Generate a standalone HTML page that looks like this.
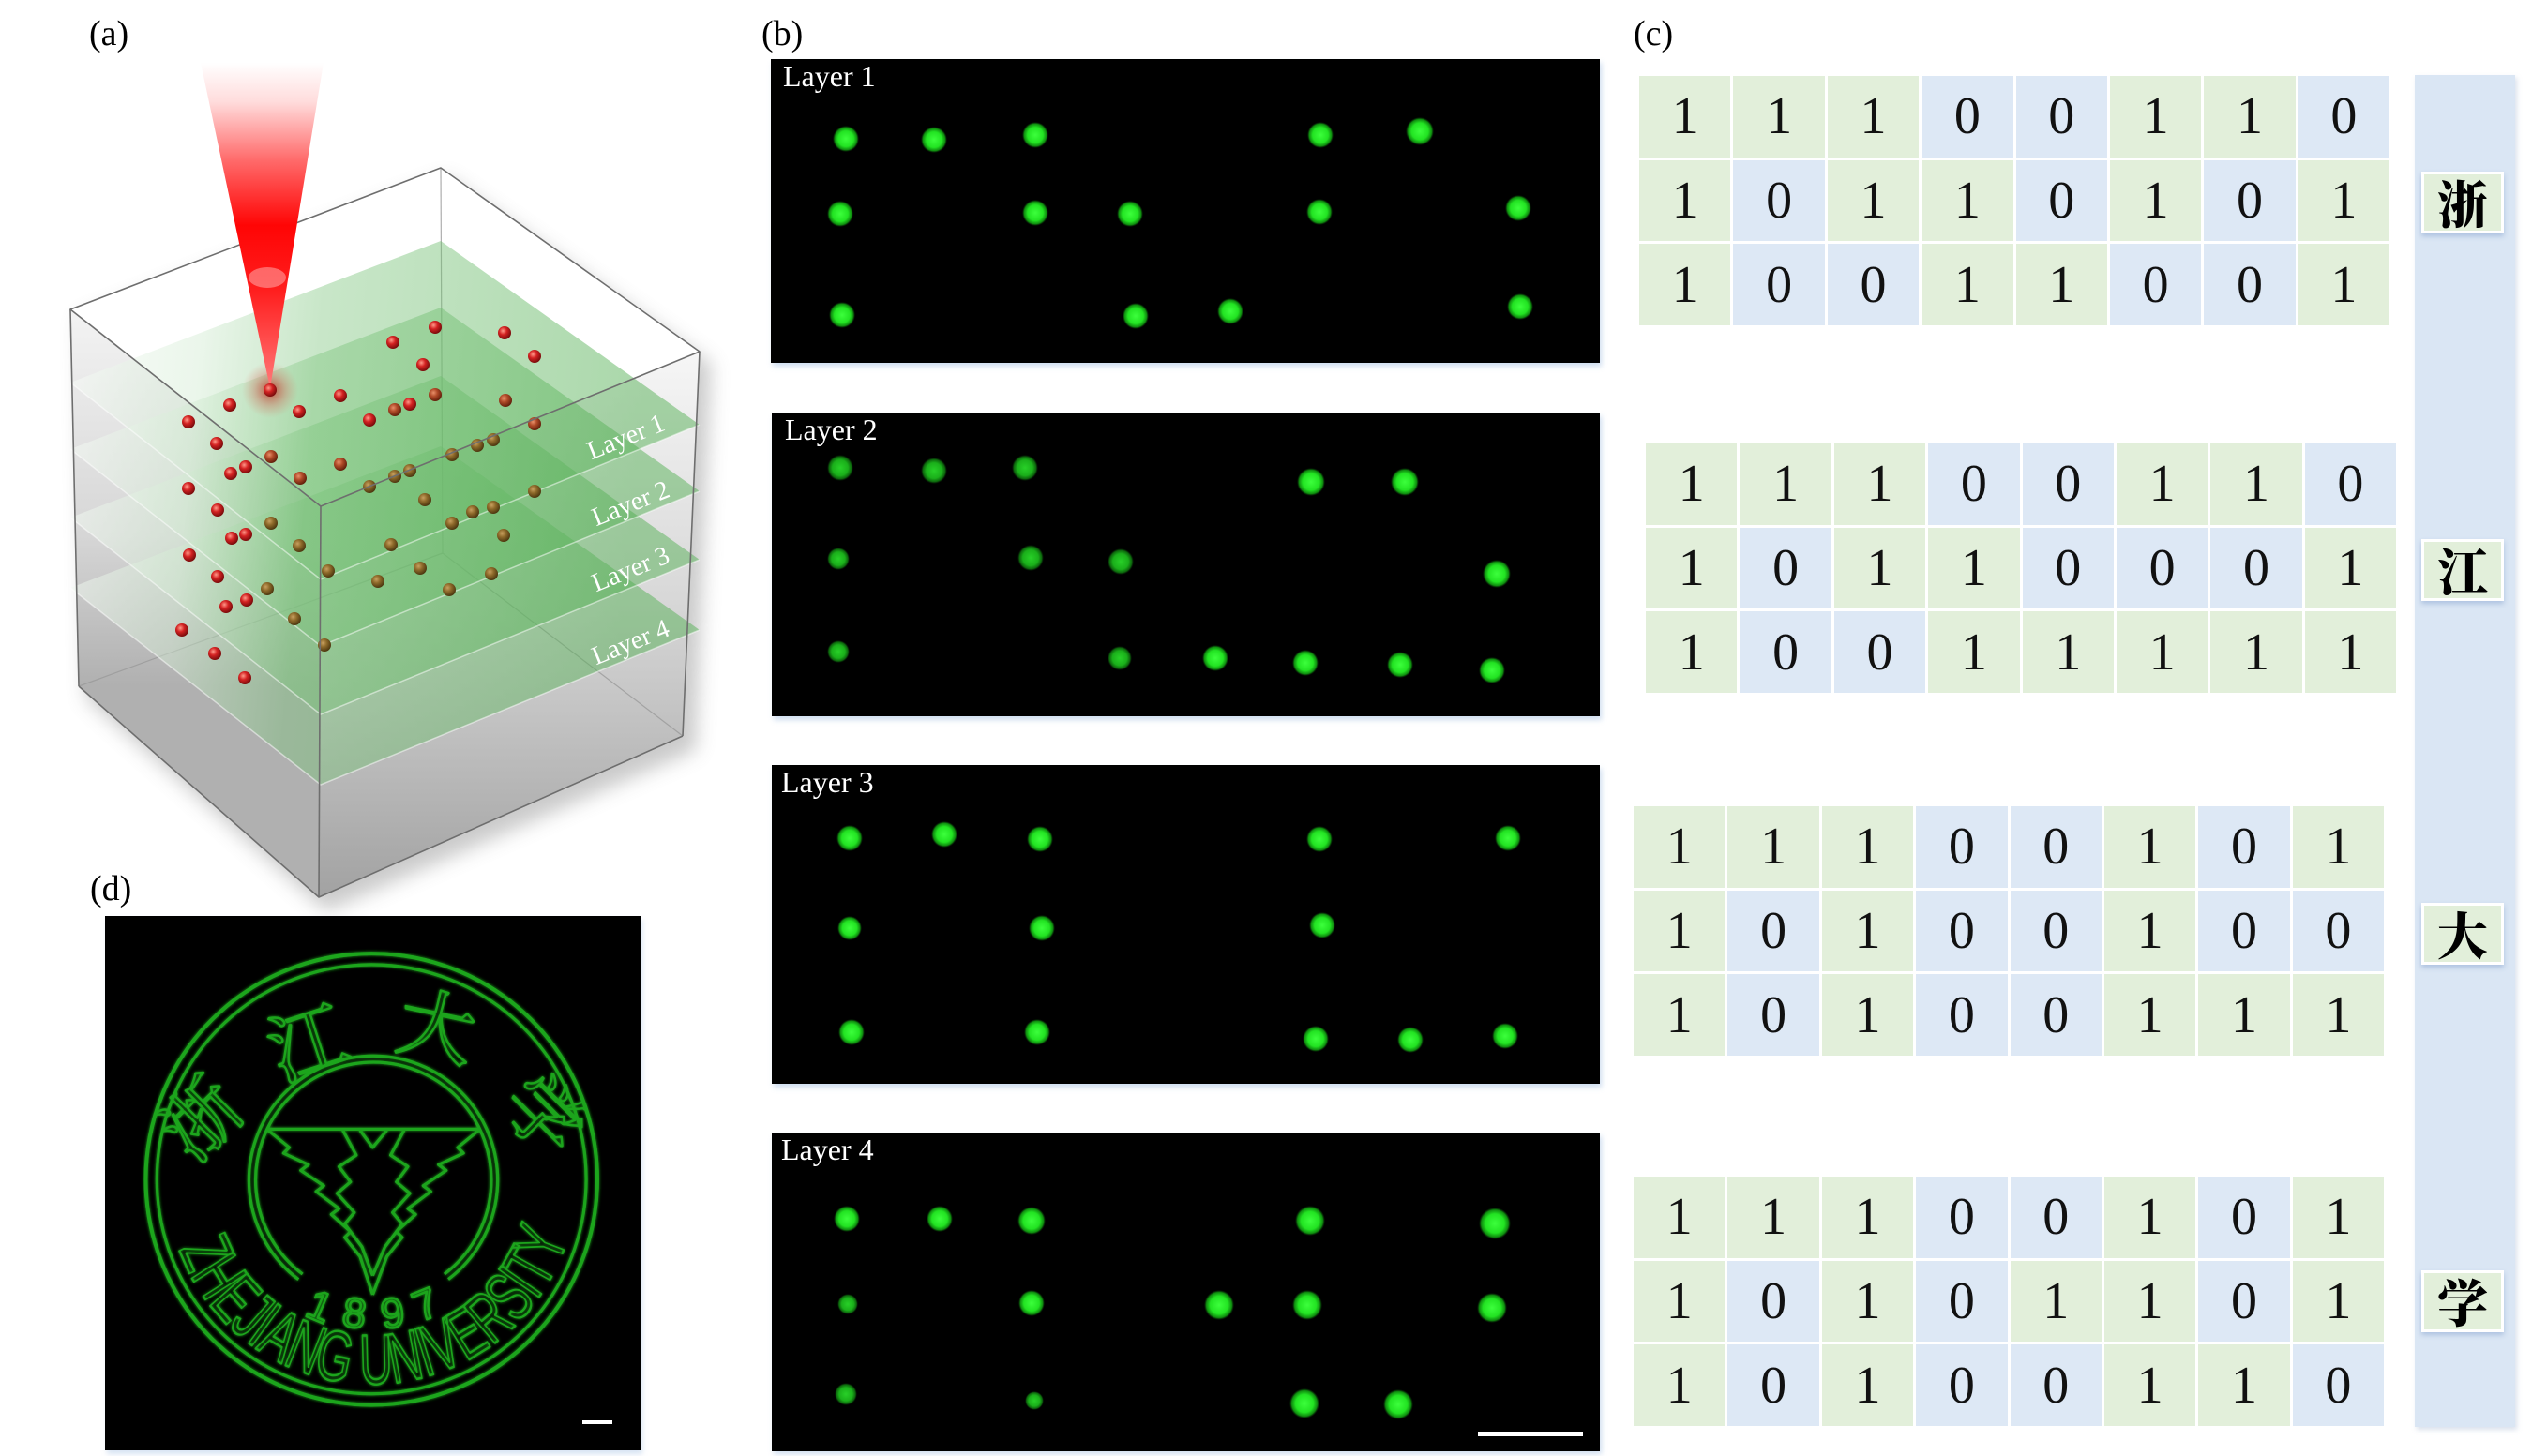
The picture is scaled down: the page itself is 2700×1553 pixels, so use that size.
<!DOCTYPE html>
<html><head><meta charset="utf-8">
<style>
html,body{margin:0;padding:0;background:#fff;}
body{width:2700px;height:1553px;position:relative;overflow:hidden;font-family:"Liberation Serif",serif;}
svg{position:absolute;left:0;top:0;}
.tb{position:absolute;width:800px;height:266px;display:grid;grid-template-columns:repeat(8,1fr);grid-template-rows:repeat(3,1fr);gap:3px;}
.tb span{display:flex;align-items:center;justify-content:center;font:56px/1 "Liberation Serif",serif;color:#111;}
.o{background:#e2efda}.z{background:#dde8f5}
.bar{position:absolute;left:2575px;top:80px;width:107px;height:1442px;background:#dae6f4;box-shadow:2px 3px 5px rgba(150,170,200,0.35);}
.cb{position:absolute;left:2582px;width:82px;height:60px;background:#e2efda;border:3px solid #fff;box-shadow:0 3px 5px rgba(120,150,200,0.45);display:flex;align-items:center;justify-content:center;font:900 54px/1 "Noto Serif CJK SC","Noto Sans CJK SC",serif;color:#000;}
.lab{position:absolute;font:38px/1 "Liberation Serif",serif;color:#000;}
</style></head>
<body>
<svg width="2700" height="1553" viewBox="0 0 2700 1553" xmlns="http://www.w3.org/2000/svg">
<defs>
  <linearGradient id="lf" gradientUnits="userSpaceOnUse" x1="0" y1="330" x2="0" y2="732">
    <stop offset="0" stop-color="#f3f3f3"/><stop offset="0.6" stop-color="#d6d6d6"/><stop offset="1" stop-color="#b0b0b0"/>
  </linearGradient>
  <linearGradient id="rf" gradientUnits="userSpaceOnUse" x1="0" y1="375" x2="0" y2="957">
    <stop offset="0" stop-color="#f6f6f6"/><stop offset="0.45" stop-color="#d8d8d8"/><stop offset="1" stop-color="#a2a2a2"/>
  </linearGradient>
  <linearGradient id="pl" gradientUnits="userSpaceOnUse" x1="90" y1="0" x2="720" y2="60">
    <stop offset="0" stop-color="#ffffff" stop-opacity="0.55"/>
    <stop offset="0.25" stop-color="#d2ebd2" stop-opacity="0.45"/>
    <stop offset="0.45" stop-color="#7cc47c" stop-opacity="0.42"/>
    <stop offset="1" stop-color="#55b055" stop-opacity="0.5"/>
  </linearGradient>
  <linearGradient id="cone" gradientUnits="userSpaceOnUse" x1="0" y1="67" x2="0" y2="414">
    <stop offset="0" stop-color="#ffffff"/><stop offset="0.12" stop-color="#ffdcdc"/>
    <stop offset="0.3" stop-color="#ff6a6a"/><stop offset="0.5" stop-color="#ff0505"/>
    <stop offset="0.7" stop-color="#ff1e1e"/><stop offset="0.86" stop-color="#ff4f4f"/>
    <stop offset="1" stop-color="#ff7a7a"/>
  </linearGradient>
  <radialGradient id="tip">
    <stop offset="0" stop-color="#b83020" stop-opacity="0.85"/><stop offset="0.55" stop-color="#d06050" stop-opacity="0.35"/><stop offset="1" stop-color="#e08070" stop-opacity="0"/>
  </radialGradient>
  <radialGradient id="sr" cx="0.38" cy="0.35" r="0.65">
    <stop offset="0" stop-color="#ff9a8a"/><stop offset="0.45" stop-color="#d42222"/><stop offset="1" stop-color="#7a0c0c"/>
  </radialGradient>
  <radialGradient id="sb" cx="0.38" cy="0.35" r="0.65">
    <stop offset="0" stop-color="#e8906a"/><stop offset="0.45" stop-color="#b04a28"/><stop offset="1" stop-color="#64200c"/>
  </radialGradient>
  <radialGradient id="so" cx="0.38" cy="0.35" r="0.65">
    <stop offset="0" stop-color="#c8a060"/><stop offset="0.45" stop-color="#8e6a2a"/><stop offset="1" stop-color="#4e3810"/>
  </radialGradient>
  <radialGradient id="gd">
    <stop offset="0" stop-color="#3cff3c"/><stop offset="0.6" stop-color="#22e322"/><stop offset="0.85" stop-color="#13b013" stop-opacity="0.8"/><stop offset="1" stop-color="#0a600a" stop-opacity="0"/>
  </radialGradient>
  <radialGradient id="gm">
    <stop offset="0" stop-color="#28d028"/><stop offset="0.6" stop-color="#1aaf1a"/><stop offset="0.85" stop-color="#108010" stop-opacity="0.8"/><stop offset="1" stop-color="#084008" stop-opacity="0"/>
  </radialGradient>
  <filter id="blur10" x="-20%" y="-20%" width="140%" height="140%"><feGaussianBlur stdDeviation="10"/></filter>
  <filter id="blur3" x="-5%" y="-5%" width="110%" height="110%"><feGaussianBlur stdDeviation="3"/></filter>
  <filter id="glow" x="-10%" y="-10%" width="120%" height="120%">
    <feGaussianBlur in="SourceGraphic" stdDeviation="4" result="b"/>
    <feMerge><feMergeNode in="b"/><feMergeNode in="SourceGraphic"/></feMerge>
  </filter>
</defs>

<!-- ===== (a) 3D box ===== -->
<polygon points="85,340 476,190 758,388 742,800 348,972 92,745" fill="#8a8a8a" opacity="0.45" filter="url(#blur10)"/>
<polygon points="75,330 470,179 746,375 342,540" fill="#ffffff"/>
<polygon points="75,330 342,540 340,957 84,732" fill="url(#lf)"/>
<polygon points="342,540 746,375 728,785 340,957" fill="url(#rf)"/>
<g stroke="#9a9a9a" stroke-width="1.2" fill="none" opacity="0.8">
  <line x1="470" y1="179" x2="472" y2="590"/>
  <line x1="472" y1="590" x2="84" y2="732"/>
  <line x1="472" y1="590" x2="728" y2="785"/>
</g>
<polygon points="75,627 470,476 746,672 342,837" fill="url(#pl)"/>
<polygon points="75,552 470,401 746,597 342,762" fill="url(#pl)"/>
<polygon points="75,479 470,328 746,524 342,689" fill="url(#pl)"/>
<polygon points="75,408 470,257 746,453 342,618" fill="url(#pl)"/>
<g stroke="#ffffff" stroke-opacity="0.5" stroke-width="1.5" fill="none">
  <polyline points="75,408 342,618 746,453"/>
  <polyline points="75,479 342,689 746,524"/>
  <polyline points="75,552 342,762 746,597"/>
  <polyline points="75,627 342,837 746,672"/>
</g>
<g>
<circle cx="464" cy="349" r="7" fill="url(#sr)"/><circle cx="538" cy="355" r="7" fill="url(#sr)"/>
<circle cx="419" cy="365" r="7" fill="url(#sr)"/><circle cx="570" cy="380" r="7" fill="url(#sr)"/>
<circle cx="451" cy="389" r="7" fill="url(#sr)"/><circle cx="245" cy="432" r="7" fill="url(#sr)"/>
<circle cx="363" cy="422" r="7" fill="url(#sr)"/><circle cx="319" cy="439" r="7" fill="url(#sr)"/>
<circle cx="437" cy="431" r="7" fill="url(#sr)"/><circle cx="421" cy="437" r="7" fill="url(#sb)"/>
<circle cx="394" cy="448" r="7" fill="url(#sr)"/><circle cx="201" cy="450" r="7" fill="url(#sr)"/>
<circle cx="231" cy="473" r="7" fill="url(#sr)"/><circle cx="262" cy="498" r="7" fill="url(#sr)"/>
<circle cx="246" cy="505" r="7" fill="url(#sr)"/><circle cx="201" cy="521" r="7" fill="url(#sr)"/>
<circle cx="232" cy="544" r="7" fill="url(#sr)"/><circle cx="262" cy="570" r="7" fill="url(#sr)"/>
<circle cx="247" cy="574" r="7" fill="url(#sr)"/><circle cx="202" cy="592" r="7" fill="url(#sr)"/>
<circle cx="232" cy="615" r="7" fill="url(#sr)"/><circle cx="263" cy="640" r="7" fill="url(#sr)"/>
<circle cx="241" cy="647" r="7" fill="url(#sr)"/><circle cx="194" cy="672" r="7" fill="url(#sr)"/>
<circle cx="229" cy="697" r="7" fill="url(#sr)"/><circle cx="261" cy="723" r="7" fill="url(#sr)"/>
<circle cx="464" cy="421" r="7" fill="url(#sb)"/><circle cx="539" cy="427" r="7" fill="url(#sb)"/>
<circle cx="570" cy="452" r="7" fill="url(#sb)"/><circle cx="289" cy="487" r="7" fill="url(#sb)"/>
<circle cx="363" cy="495" r="7" fill="url(#sb)"/><circle cx="320" cy="510" r="7" fill="url(#sb)"/>
<circle cx="289" cy="558" r="7" fill="url(#so)"/><circle cx="319" cy="582" r="7" fill="url(#so)"/>
<circle cx="285" cy="628" r="7" fill="url(#so)"/>
<circle cx="526" cy="469" r="7" fill="url(#so)"/><circle cx="509" cy="475" r="7" fill="url(#so)"/>
<circle cx="482" cy="485" r="7" fill="url(#so)"/><circle cx="437" cy="502" r="7" fill="url(#so)"/>
<circle cx="421" cy="508" r="7" fill="url(#so)"/><circle cx="394" cy="519" r="7" fill="url(#so)"/>
<circle cx="570" cy="524" r="7" fill="url(#so)"/><circle cx="453" cy="533" r="7" fill="url(#so)"/>
<circle cx="526" cy="541" r="7" fill="url(#so)"/><circle cx="504" cy="546" r="7" fill="url(#so)"/>
<circle cx="482" cy="558" r="7" fill="url(#so)"/><circle cx="537" cy="571" r="7" fill="url(#so)"/>
<circle cx="417" cy="581" r="7" fill="url(#so)"/><circle cx="350" cy="609" r="7" fill="url(#so)"/>
<circle cx="448" cy="606" r="7" fill="url(#so)"/><circle cx="524" cy="612" r="7" fill="url(#so)"/>
<circle cx="403" cy="620" r="7" fill="url(#so)"/><circle cx="479" cy="629" r="7" fill="url(#so)"/>
<circle cx="314" cy="660" r="7" fill="url(#so)"/><circle cx="346" cy="688" r="7" fill="url(#so)"/>
</g>
<g stroke="#6e6e6e" stroke-width="1.6" fill="none" stroke-linejoin="round">
  <polygon points="75,330 470,179 746,375 342,540"/>
  <line x1="75" y1="330" x2="84" y2="732"/>
  <line x1="342" y1="540" x2="340" y2="957"/>
  <line x1="746" y1="375" x2="728" y2="785"/>
  <polyline points="84,732 340,957 728,785"/>
</g>
<circle cx="288" cy="416" r="30" fill="url(#tip)"/>
<polygon points="214,67 345,67 288,414" fill="url(#cone)"/>
<ellipse cx="285" cy="296" rx="20" ry="11" fill="#ffffff" opacity="0.35"/>
<circle cx="288" cy="416" r="7" fill="url(#sr)"/>
<g font-family="Liberation Serif, serif" font-size="28" fill="#ffffff" text-anchor="middle">
  <text transform="translate(667,465) rotate(-22)" y="10">Layer 1</text>
  <text transform="translate(672,536) rotate(-22)" y="10">Layer 2</text>
  <text transform="translate(672,606) rotate(-22)" y="10">Layer 3</text>
  <text transform="translate(672,684) rotate(-22)" y="10">Layer 4</text>
</g>

<!-- ===== (b) panels ===== -->
<g fill="#bcd0ea" opacity="0.7" filter="url(#blur3)">
  <rect x="824" y="67" width="884" height="324"/>
  <rect x="825" y="444" width="883" height="324"/>
  <rect x="825" y="820" width="883" height="340"/>
  <rect x="825" y="1212" width="883" height="339"/>
</g>
<rect x="822" y="63" width="884" height="324" fill="#000"/>
<rect x="823" y="440" width="883" height="324" fill="#000"/>
<rect x="823" y="816" width="883" height="340" fill="#000"/>
<rect x="823" y="1208" width="883" height="340" fill="#000"/>
<g font-family="Liberation Serif, serif" font-size="32" fill="#ffffff">
  <text x="835" y="92">Layer 1</text>
  <text x="837" y="469">Layer 2</text>
  <text x="833" y="845">Layer 3</text>
  <text x="833" y="1237">Layer 4</text>
</g>
<g fill="url(#gd)">
  <circle cx="902" cy="148" r="14"/><circle cx="996" cy="149" r="14"/><circle cx="1104" cy="144" r="14"/><circle cx="1408" cy="144" r="14"/><circle cx="1514" cy="140" r="15"/>
  <circle cx="896" cy="228" r="14"/><circle cx="1104" cy="227" r="14"/><circle cx="1205" cy="228" r="14"/><circle cx="1407" cy="226" r="14"/><circle cx="1619" cy="222" r="14"/>
  <circle cx="898" cy="336" r="14"/><circle cx="1211" cy="337" r="14"/><circle cx="1312" cy="332" r="14"/><circle cx="1621" cy="327" r="14"/>
  <circle cx="1398" cy="514" r="15"/><circle cx="1498" cy="514" r="15"/><circle cx="1596" cy="612" r="15"/>
  <circle cx="1296" cy="702" r="14"/><circle cx="1392" cy="707" r="14"/><circle cx="1493" cy="709" r="14"/><circle cx="1591" cy="715" r="14"/>
  <circle cx="906" cy="894" r="14"/><circle cx="1007" cy="890" r="14"/><circle cx="1109" cy="895" r="14"/><circle cx="1407" cy="895" r="14"/><circle cx="1608" cy="894" r="14"/>
  <circle cx="906" cy="990" r="13"/><circle cx="1111" cy="990" r="14"/><circle cx="1410" cy="987" r="14"/>
  <circle cx="908" cy="1101" r="14"/><circle cx="1106" cy="1101" r="14"/><circle cx="1403" cy="1108" r="14"/><circle cx="1504" cy="1109" r="14"/><circle cx="1605" cy="1105" r="14"/>
  <circle cx="903" cy="1300" r="14"/><circle cx="1002" cy="1300" r="14"/><circle cx="1100" cy="1302" r="15"/><circle cx="1397" cy="1302" r="16"/><circle cx="1594" cy="1305" r="17"/>
  <circle cx="1100" cy="1390" r="14"/><circle cx="1300" cy="1392" r="16"/><circle cx="1394" cy="1392" r="16"/><circle cx="1591" cy="1395" r="16"/>
  <circle cx="1391" cy="1497" r="16"/><circle cx="1491" cy="1498" r="16"/>
</g>
<g fill="url(#gm)">
  <circle cx="896" cy="499" r="14"/><circle cx="996" cy="502" r="14"/><circle cx="1093" cy="499" r="14"/>
  <circle cx="894" cy="596" r="12"/><circle cx="1099" cy="595" r="14"/><circle cx="1195" cy="599" r="14"/>
  <circle cx="894" cy="695" r="12"/><circle cx="1194" cy="702" r="13"/>
  <circle cx="904" cy="1391" r="11"/><circle cx="902" cy="1487" r="12"/><circle cx="1103" cy="1494" r="10"/>
</g>
<rect x="1576" y="1527" width="112" height="5" fill="#ffffff"/>

<!-- ===== (d) seal ===== -->
<rect x="114" y="981" width="571" height="570" fill="#bcd0ea" opacity="0.6" filter="url(#blur3)"/>
<rect x="112" y="977" width="571" height="570" fill="#000"/>
<g transform="translate(80,920) scale(0.408)" fill="none" stroke="#1fa51f" stroke-width="8" stroke-linejoin="round" filter="url(#glow)">
  <circle cx="775" cy="828" r="590" stroke-width="10"/>
  <circle cx="775" cy="828" r="561"/>
  <path d="M584,1090 A325,325 0 1 1 975.6,1089.6"/>
  <path d="M594.6,1076 A308,308 0 1 1 965.4,1076"/>
  <line x1="505" y1="697" x2="1055" y2="697"/>
  <polyline points="505,700 560,745 545,760 610,790 590,805 650,845 630,860 690,905 670,920 720,965 705,980 745,1030 778,1130"/>
  <polyline points="1055,700 1000,745 1015,760 950,790 970,805 910,845 930,860 870,905 890,920 840,965 855,980 815,1030 778,1130"/>
  <polyline points="700,700 735,765 690,795 720,835 685,865 730,915 705,945 750,1005 778,1080"/>
  <polyline points="860,700 825,765 870,795 840,835 875,865 830,915 855,945 810,1005 778,1080"/>
  <polyline points="745,700 778,745 815,700"/>
  <path id="arcTxt" d="M272.3,1011 A535,535 0 0 0 1291.8,966.5" stroke="none"/>
  <text font-family="Liberation Sans, sans-serif" font-size="185" stroke-width="6" textLength="1340" lengthAdjust="spacingAndGlyphs"><textPath href="#arcTxt">ZHEJIANG UNIVERSITY</textPath></text>
  <g font-family="Liberation Sans, sans-serif" font-size="110" stroke-width="6" text-anchor="middle">
    <text transform="translate(625,1195) rotate(23)">1</text>
    <text transform="translate(725,1215) rotate(8)">8</text>
    <text transform="translate(835,1215) rotate(-8)">9</text>
    <text transform="translate(930,1190) rotate(-22)">7</text>
  </g>
  <g font-family="Noto Serif CJK SC, serif" font-size="200" stroke-width="6" text-anchor="middle">
    <text transform="translate(380,720) rotate(-45)">浙</text>
    <text transform="translate(630,540) rotate(-18)">江</text>
    <text transform="translate(930,500) rotate(12)">大</text>
    <text transform="translate(1175,710) rotate(45)">学</text>
  </g>
</g>
<rect x="621" y="1515" width="32" height="4" fill="#ffffff"/>
</svg>

<div class="lab" style="left:95px;top:17px;">(a)</div>
<div class="lab" style="left:812px;top:17px;">(b)</div>
<div class="lab" style="left:1742px;top:17px;">(c)</div>
<div class="lab" style="left:96px;top:929px;">(d)</div>

<div class="bar"></div>
<div class="cb" style="top:183px;">浙</div>
<div class="cb" style="top:575px;">江</div>
<div class="cb" style="top:963px;">大</div>
<div class="cb" style="top:1355px;">学</div>

<div class="tb" style="left:1748px;top:81px;">
<span class="o">1</span><span class="o">1</span><span class="o">1</span><span class="z">0</span><span class="z">0</span><span class="o">1</span><span class="o">1</span><span class="z">0</span>
<span class="o">1</span><span class="z">0</span><span class="o">1</span><span class="o">1</span><span class="z">0</span><span class="o">1</span><span class="z">0</span><span class="o">1</span>
<span class="o">1</span><span class="z">0</span><span class="z">0</span><span class="o">1</span><span class="o">1</span><span class="z">0</span><span class="z">0</span><span class="o">1</span>
</div>
<div class="tb" style="left:1755px;top:473px;">
<span class="o">1</span><span class="o">1</span><span class="o">1</span><span class="z">0</span><span class="z">0</span><span class="o">1</span><span class="o">1</span><span class="z">0</span>
<span class="o">1</span><span class="z">0</span><span class="o">1</span><span class="o">1</span><span class="z">0</span><span class="z">0</span><span class="z">0</span><span class="o">1</span>
<span class="o">1</span><span class="z">0</span><span class="z">0</span><span class="o">1</span><span class="o">1</span><span class="o">1</span><span class="o">1</span><span class="o">1</span>
</div>
<div class="tb" style="left:1742px;top:860px;">
<span class="o">1</span><span class="o">1</span><span class="o">1</span><span class="z">0</span><span class="z">0</span><span class="o">1</span><span class="z">0</span><span class="o">1</span>
<span class="o">1</span><span class="z">0</span><span class="o">1</span><span class="z">0</span><span class="z">0</span><span class="o">1</span><span class="z">0</span><span class="z">0</span>
<span class="o">1</span><span class="z">0</span><span class="o">1</span><span class="z">0</span><span class="z">0</span><span class="o">1</span><span class="o">1</span><span class="o">1</span>
</div>
<div class="tb" style="left:1742px;top:1255px;">
<span class="o">1</span><span class="o">1</span><span class="o">1</span><span class="z">0</span><span class="z">0</span><span class="o">1</span><span class="z">0</span><span class="o">1</span>
<span class="o">1</span><span class="z">0</span><span class="o">1</span><span class="z">0</span><span class="o">1</span><span class="o">1</span><span class="z">0</span><span class="o">1</span>
<span class="o">1</span><span class="z">0</span><span class="o">1</span><span class="z">0</span><span class="z">0</span><span class="o">1</span><span class="o">1</span><span class="z">0</span>
</div>
</body></html>
